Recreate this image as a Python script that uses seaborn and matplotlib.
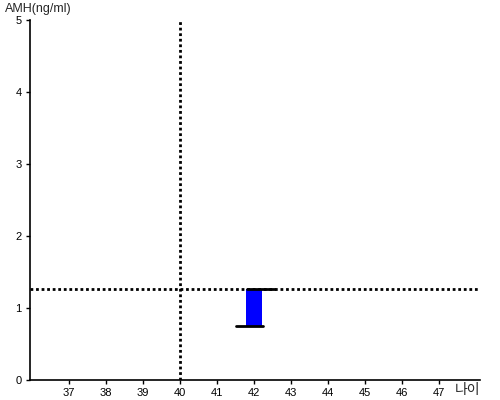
import seaborn as sns
import matplotlib.pyplot as plt
import pandas as pd

# data
ages = [37, 38, 39, 40, 41, 42, 43, 44, 45, 46, 47]
amh_ticks = [0, 1, 2, 3, 4, 5]
patient_age = 42
amh_low = 0.75
amh_high = 1.27
ref_age = 40
ref_amh = 1.27

sns.set_style("ticks")
plt.rcParams['font.family'] = ['Liberation Sans', 'Noto Sans CJK KR', 'DejaVu Sans']

fig = plt.figure(figsize=(5, 4), dpi=100)
ax = fig.add_axes([0.06, 0.05, 0.90, 0.90])

# reference lines
ax.axvline(ref_age, color="black", lw=2, ls=(0, (1, 1)))
ax.axhline(ref_amh, color="black", lw=2, ls=(0, (1, 1)))

# bar between low and high value
df = pd.DataFrame({"age": [patient_age], "low": [amh_low], "high": [amh_high]})
ax.bar(df["age"], df["high"] - df["low"], bottom=df["low"], width=0.43,
       color="#0000ff", edgecolor="none", zorder=3)
sns.lineplot(x=[patient_age - 0.5, patient_age + 0.24], y=[amh_low, amh_low],
             color="black", lw=2, ax=ax, zorder=4)
sns.lineplot(x=[patient_age - 0.19, patient_age + 0.57], y=[amh_high, amh_high],
             color="black", lw=2, ax=ax, zorder=4)

ax.set_xlim(35.95, 48.1)
ax.set_ylim(0, 5)
ax.set_xticks(ages)
ax.set_yticks(amh_ticks)
ax.tick_params(labelsize=8, length=3, width=1, colors="black", pad=3)
sns.despine(ax=ax)
for s in ["left", "bottom"]:
    ax.spines[s].set_linewidth(1.2)
    ax.spines[s].set_color("black")

fig.text(5 / 500, 1 - 12 / 400, "AMH(ng/ml)", fontsize=9, ha="left", va="baseline")
fig.text(455 / 500, 1 - 397 / 400, "나이", fontsize=10, ha="left", va="bottom")

fig.savefig("out.png", dpi=100)
